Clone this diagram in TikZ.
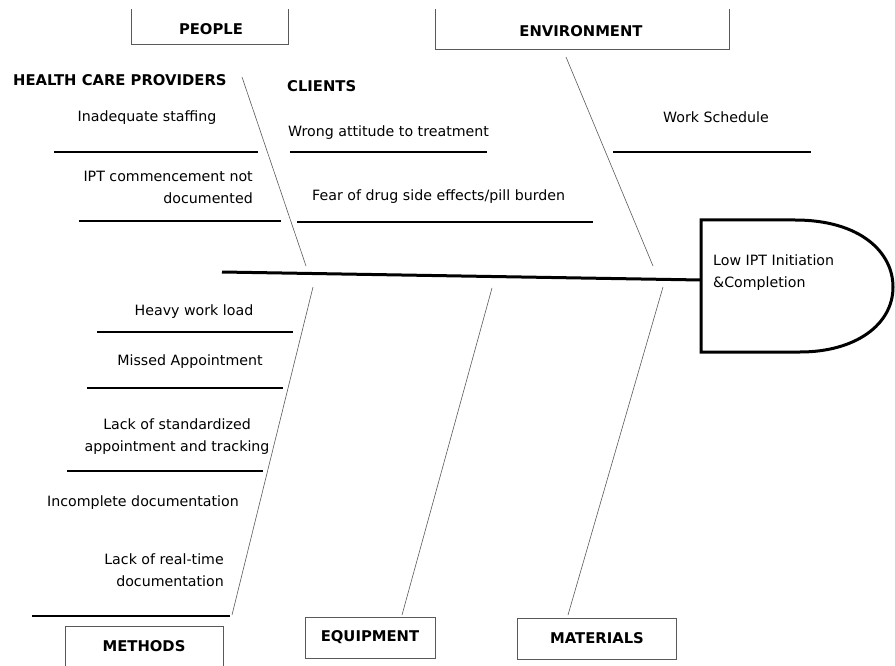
\documentclass[tikz,border=0pt]{standalone}
\usepackage{fontspec}
\setmainfont{DejaVu Sans}
\newcommand*{\CauseLines}[1]{% #1 = list of x1/x2/y
  \foreach \xa/\xb/\y in {#1} {
    \draw [cause] (\xa,\y) -- (\xb,\y);
    }%
}

\begin{document}
\begin{tikzpicture}[x=1pt,y=-1pt,
    label/.style={font=\fontsize{14.2}{22}\selectfont,inner sep=0pt,align=center},
    title/.style={font=\fontsize{14.8}{16}\selectfont\bfseries,inner sep=0pt},
    catbox/.style={draw=black!65,line width=0.8pt,inner sep=0pt},
    bone/.style={draw=black!65,line width=0.6pt},
    cause/.style={line width=2pt}]
        \useasboundingbox (0,0) rectangle (895,666);
        % category boxes, cut by the frame
        \begin{scope}
            \clip (0,10) rectangle (895,666);
            \node[catbox,minimum width=157,minimum height=50,anchor=south] (peoplebox) at (210,45) {};
            \node[catbox,minimum width=294,minimum height=50,anchor=south] (envbox) at (582,50) {};
            \node[catbox,minimum width=158,minimum height=50,anchor=north] (methbox) at (144,626) {};
            \node[catbox,minimum width=130,minimum height=41,anchor=north] (equipbox) at (370,617) {};
            \node[catbox,minimum width=159,minimum height=41,anchor=north] (matbox) at (597,618) {};
        \end{scope}
        \node[title] (people) at (211,29) {PEOPLE};
        \node[title] (env) at (581,31) {ENVIRONMENT};
        \node[title] (meth) at (144,646) {METHODS};
        \node[title] (equip) at (370,637) {EQUIPMENT};
        \node[title] (mat) at (597,638) {MATERIALS};

        % head of the fish
        \draw[line width=3pt] (701,220) -- (795,220)
            .. controls (860,220) and (893,252) .. (893,287)
            .. controls (893,325) and (855,352) .. (800,352) -- (701,352) -- cycle;
        \node[label,align=left,anchor=west] (effect) at (713,273) {Low IPT Initiation\\\&Completion};

        % spine and bones
        \coordinate (tail) at (222,272);
        \coordinate (neck) at (701,280);
        \draw[line width=3pt] (tail) -- (neck);
        \coordinate (pa) at (242,77);   \coordinate (pb) at (306,266);
        \coordinate (ea) at (566,57);   \coordinate (eb) at (653,266);
        \coordinate (ma) at (313,287);  \coordinate (mb) at (232,615);
        \coordinate (qa) at (492,288);  \coordinate (qb) at (402,615);
        \coordinate (ta) at (663,287);  \coordinate (tb) at (568,615);
        \draw[bone] (pa) -- (pb);
        \draw[bone] (ea) -- (eb);
        \draw[bone] (ma) -- (mb);
        \draw[bone] (qa) -- (qb);
        \draw[bone] (ta) -- (tb);

        \CauseLines{54/258/152, 79/281/221, 290/487/152, 297/593/222, 613/811/152,
            97/293/332, 87/283/388, 67/263/471, 32/230/616}

        % causes
        \node[title,anchor=west] (hcp) at (13,80) {HEALTH CARE PROVIDERS};
        \node[title,anchor=west] (clients) at (287,86) {CLIENTS};
        \node[label] (staff) at (147,118) {Inadequate staffing};
        \node[label,align=right,anchor=east] (ipt) at (253,187) {IPT commencement not\\documented};
        \node[label,anchor=west] (attitude) at (288,133) {Wrong attitude to treatment};
        \node[label,anchor=west] (fear) at (312,197) {Fear of drug side effects/pill burden};
        \node[label] (sched) at (716,117) {Work Schedule};
        \node[label] (workload) at (194,312) {Heavy work load};
        \node[label] (missed) at (190,362) {Missed Appointment};
        \node[label] (track) at (177,437) {Lack of standardized\\appointment and tracking};
        \node[label] (incomplete) at (143,503) {Incomplete documentation};
        \node[label,align=right,anchor=east] (realtime) at (224,570) {Lack of real-time\\documentation};
    \end{tikzpicture}
\end{document}
